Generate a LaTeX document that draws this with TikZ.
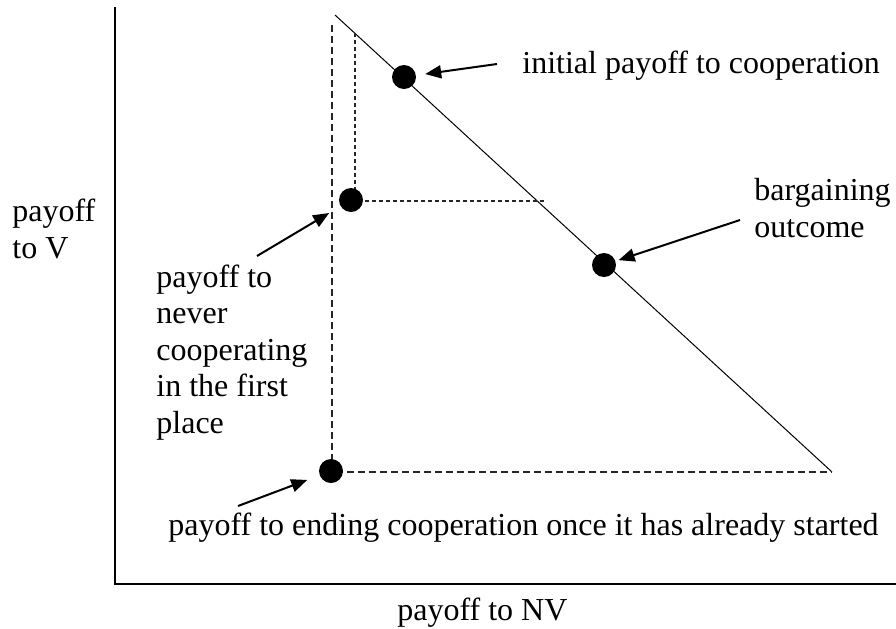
\documentclass[tikz,border=0pt]{standalone}
\usepackage{fontspec}
\setmainfont{Liberation Serif}
\usetikzlibrary{arrows.meta}

\tikzset{
	axis/.style={line width=1pt},
	payline/.style={line width=0.5pt},
	guide/.style={line width=0.6pt, black!85, dash pattern=on 3.5pt off 2pt},
	fineguide/.style={line width=0.6pt, black!85, dash pattern=on 2pt off 1.5pt},
	outcome/.style={circle, fill=black, inner sep=0pt, minimum size=12pt},
	pointer/.style={line width=1pt, -{Triangle[length=8pt,width=6.5pt]}},
	note/.style={inner sep=0pt, anchor=base west, align=left, font=\fontsize{16}{18.25}\selectfont}
}

\begin{document}
\begin{tikzpicture}[x=0.5pt, y=-0.5pt]
	\useasboundingbox (0,0) rectangle (896,628);
	
	\coordinate (origin) at (115,584);
	\draw[axis] (115,7) -- (origin) -- (896,584);
	
	\coordinate (top) at (335,15);
	\coordinate (corner) at (832,472);
	\draw[payline] (top) -- (corner);
	
	\draw[guide] (332,25) -- (332,472) -- (corner);
	\draw[fineguide] (355,33) -- (355,200);
	\draw[fineguide] (351,201) -- (547,201);
	
	\node[outcome] (initial) at (404,77) {};
	\node[outcome] (never) at (351,200) {};
	\node[outcome] (bargain) at (604,265) {};
	\node[outcome] (ending) at (331,471) {};
	
	\node[note] (initialtext) at (522,73) {initial payoff to cooperation};
	\node[note] (bargaintext) at (754,237) {bargaining\\outcome};
	\node[note] (vaxis) at (12,258) {payoff\\to V};
	\node[note] (nvaxis) at (397,620) {payoff to NV};
	\node[note] (nevertext) at (156,433) {payoff to\\never\\cooperating\\in the first\\place};
	\node[note] (endingtext) at (168,535) {payoff to ending cooperation once it has already started};
	
	\coordinate (initialtail) at (497,64);
	\coordinate (bargaintail) at (740,220);
	\coordinate (nevertail) at (257,256);
	\coordinate (endingtail) at (238,506);
	
	\draw[pointer, shorten >=4.5pt] (initialtail) -- (initial);
	\draw[pointer, shorten >=1.5pt] (bargaintail) -- (bargain);
	\draw[pointer, shorten >=6.5pt] (nevertail) -- (never);
	\draw[pointer, shorten >=6.5pt] (endingtail) -- (ending);
\end{tikzpicture}
\end{document}
